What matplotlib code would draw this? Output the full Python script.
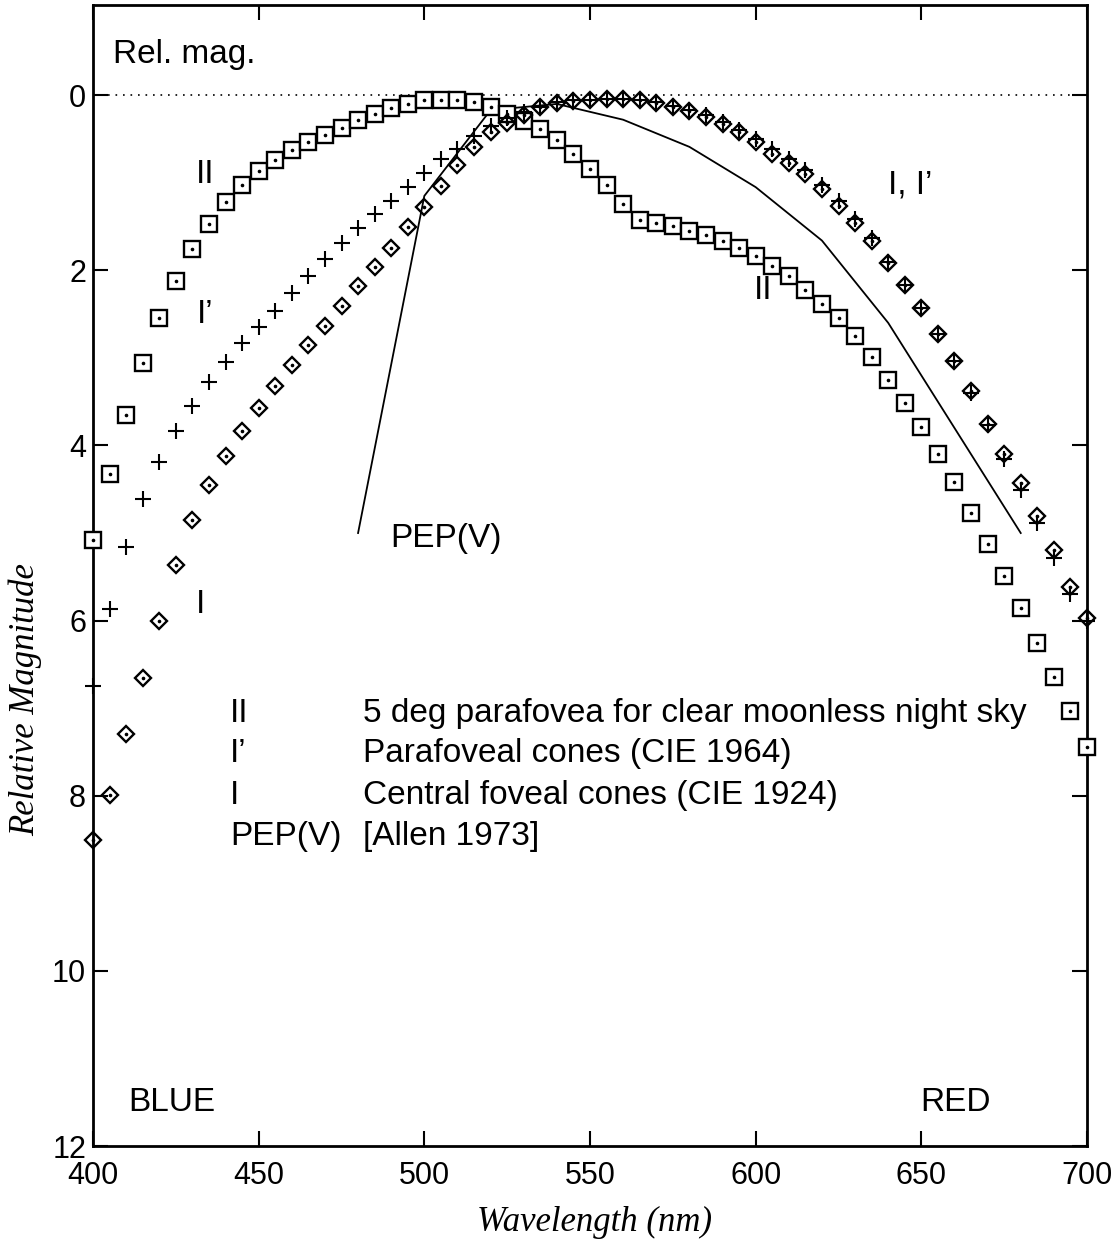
import numpy as np
import matplotlib
matplotlib.use("Agg")
import matplotlib.pyplot as plt

# wavelength grid of the marker series (nm)
wl = list(range(400, 705, 5))

# II : 5 deg parafovea, clear moonless night sky (squares)
mag_II = [5.08, 4.33, 3.65, 3.06, 2.55, 2.12, 1.76, 1.47, 1.22, 1.02,
          0.87, 0.74, 0.63, 0.54, 0.45, 0.37, 0.28, 0.21, 0.15, 0.095,
          0.06, 0.05, 0.05, 0.08, 0.13, 0.21, 0.29, 0.39, 0.51, 0.67,
          0.84, 1.03, 1.24, 1.43, 1.46, 1.49, 1.55, 1.60, 1.67, 1.74,
          1.84, 1.95, 2.07, 2.22, 2.39, 2.55, 2.75, 2.99, 3.25, 3.51,
          3.79, 4.10, 4.42, 4.77, 5.12, 5.49, 5.86, 6.26, 6.64, 7.03,
          7.44]

# I' : parafoveal cones, CIE 1964 (crosses)
mag_Ip = [6.75, 5.87, 5.16, 4.61, 4.19, 3.84, 3.55, 3.28, 3.05, 2.83,
          2.65, 2.46, 2.26, 2.07, 1.87, 1.69, 1.52, 1.36, 1.21, 1.05,
          0.89, 0.73, 0.61, 0.47, 0.35, 0.26, 0.19, 0.13, 0.08, 0.06,
          0.05, 0.04, 0.04, 0.05, 0.08, 0.12, 0.17, 0.23, 0.31, 0.40,
          0.50, 0.62, 0.73, 0.85, 1.02, 1.21, 1.41, 1.63, 1.90, 2.17,
          2.43, 2.73, 3.04, 3.40, 3.77, 4.15, 4.51, 4.88, 5.28, 5.70,
          6.00]

# I : central foveal cones, CIE 1924 (diamonds)
mag_I = [8.50, 7.99, 7.29, 6.66, 6.00, 5.36, 4.85, 4.45, 4.12, 3.83,
         3.57, 3.32, 3.08, 2.85, 2.64, 2.41, 2.18, 1.96, 1.75, 1.51,
         1.28, 1.04, 0.80, 0.59, 0.42, 0.32, 0.23, 0.14, 0.09, 0.065,
         0.05, 0.04, 0.04, 0.06, 0.09, 0.13, 0.18, 0.25, 0.33, 0.42,
         0.53, 0.67, 0.78, 0.90, 1.07, 1.26, 1.46, 1.67, 1.92, 2.17,
         2.43, 2.73, 3.04, 3.38, 3.75, 4.10, 4.43, 4.80, 5.19, 5.62,
         5.97]

# PEP(V) [Allen 1973] (solid line)
wl_pep = [480, 500, 520, 540, 560, 580, 600, 620, 640, 660, 680]
mag_pep = [5.0, 1.15, 0.17, 0.10, 0.28, 0.59, 1.05, 1.66, 2.60, 3.80, 5.0]

x_ticks = [400, 450, 500, 550, 600, 650, 700]
y_ticks = [0, 2, 4, 6, 8, 10, 12]

legend_rows = [("II", "5 deg parafovea for clear moonless night sky"),
               ("I\u2019", "Parafoveal cones (CIE 1964)"),
               ("I", "Central foveal cones (CIE 1924)"),
               ("PEP(V)", "[Allen 1973]")]

plt.rcParams['font.family'] = ['Liberation Sans', 'DejaVu Sans']

fig = plt.figure(figsize=(11.18, 12.58), dpi=100)
ax = fig.add_axes([93 / 1118, 112 / 1258, 994 / 1118, 1141 / 1258])

ax.axhline(0, color='black', lw=1.2, ls=(0, (1, 3.5)), zorder=1)

ax.plot(wl_pep, mag_pep, color='black', lw=1.3, zorder=2, clip_on=False)

ax.plot(wl, mag_II, ls='none', marker='s', ms=11, mfc='white', mec='black',
        mew=1.7, zorder=3, clip_on=False)
ax.plot(wl, mag_II, ls='none', marker='o', ms=1.6, color='black', zorder=4,
        clip_on=False)

ax.plot(wl, mag_I, ls='none', marker='D', ms=8, mfc='none', mec='black',
        mew=1.7, zorder=5, clip_on=False)
ax.plot(wl, mag_I, ls='none', marker='o', ms=1.6, color='black', zorder=5,
        clip_on=False)

ax.plot(wl, mag_Ip, ls='none', marker='+', ms=11.5, mec='black', mew=1.5,
        zorder=6, clip_on=False)

ax.set_xlim(400, 700)
ax.set_ylim(12, -1.03)
ax.set_xticks(x_ticks)
ax.set_yticks(y_ticks)
ax.tick_params(direction='in', length=11, width=1.5, top=True, right=True,
               labelsize=22)
ax.tick_params(axis='x', pad=11)
ax.tick_params(axis='y', pad=5)
for s in ax.spines.values():
    s.set_linewidth(2.0)

fs = 24
ax.text(406, -0.46, "Rel. mag.", fontsize=fs, va='center', ha='left')
ax.text(433.8, 0.91, "II", fontsize=fs, va='center', ha='center')
ax.text(433.8, 2.51, "I\u2019", fontsize=fs, va='center', ha='center')
ax.text(432.3, 5.82, "I", fontsize=fs, va='center', ha='center')
ax.text(506.6, 5.06, "PEP(V)", fontsize=fs, va='center', ha='center')
ax.text(646.6, 1.03, "I, I\u2019", fontsize=fs, va='center', ha='center')
ax.text(602.2, 2.23, "II", fontsize=fs, va='center', ha='center')
ax.text(410.6, 11.5, "BLUE", fontsize=fs, va='center', ha='left')
ax.text(649.6, 11.5, "RED", fontsize=fs, va='center', ha='left')

row_y = [7.06, 7.52, 8.0, 8.47]
for (k, desc), yy in zip(legend_rows, row_y):
    ax.text(441.4, yy, k, fontsize=fs, va='center', ha='left')
    ax.text(481.5, yy, desc, fontsize=fs, va='center', ha='left')

fig.text(595 / 1118, 1 - 1222 / 1258, "Wavelength (nm)", fontsize=25,
         family='Liberation Serif', style='italic', ha='center', va='center')
fig.text(25 / 1118, 1 - 700 / 1258, "Relative Magnitude", fontsize=25,
         family='Liberation Serif', style='italic', ha='center', va='center',
         rotation=90)

fig.savefig("out.png", dpi=100)
